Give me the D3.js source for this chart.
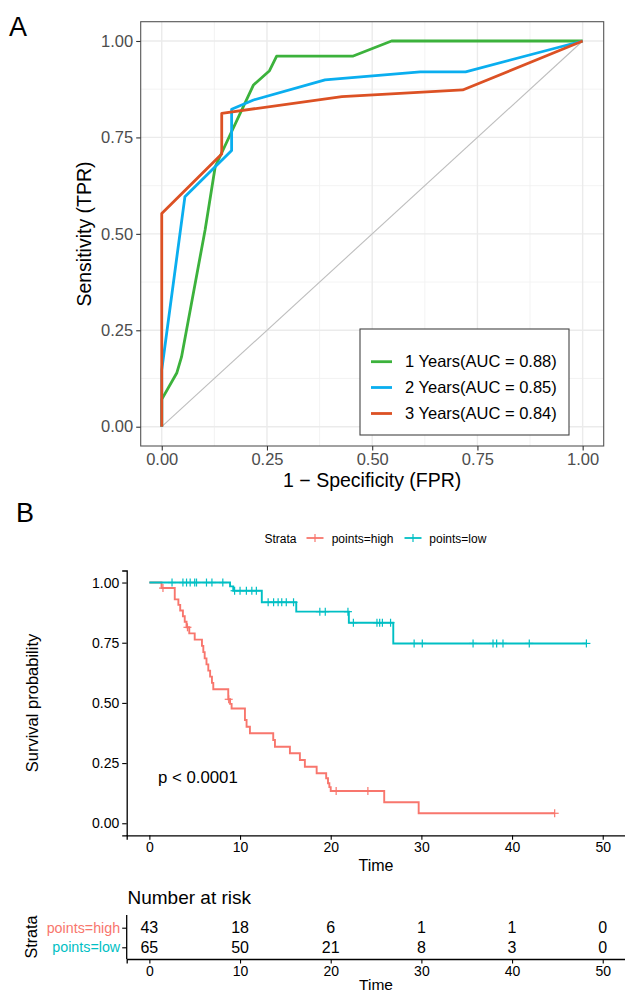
<!DOCTYPE html>
<html>
<head>
<meta charset="utf-8">
<script src="https://cdn.jsdelivr.net/npm/d3@7/dist/d3.min.js"></script>
<style>
  html, body { margin: 0; padding: 0; background: #fff; }
  svg { display: block; font-family: "Liberation Sans", Arial, sans-serif; }
</style>
</head>
<body>
<svg id="chart" width="625" height="994"></svg>
<script>
// ---------------- DATA ----------------
// Panel A: ROC curves (FPR, TPR)
const rocLabels = ["1 Years(AUC = 0.88)", "2 Years(AUC = 0.85)", "3 Years(AUC = 0.84)"];
const roc1Fpr = [0, 0, 0.036, 0.047, 0.103, 0.127, 0.218, 0.256, 0.273, 0.455, 0.546, 1];
const roc1Tpr = [0, 0.071, 0.14, 0.181, 0.51, 0.674, 0.886, 0.923, 0.961, 0.961, 1, 1];
const roc2Fpr = [0, 0, 0.055, 0.166, 0.166, 0.218, 0.388, 0.614, 0.722, 1];
const roc2Tpr = [0, 0.147, 0.596, 0.716, 0.823, 0.847, 0.899, 0.920, 0.920, 1];
const roc3Fpr = [0, 0, 0.1425, 0.1425, 0.428, 0.715, 1];
const roc3Tpr = [0, 0.553, 0.707, 0.8125, 0.856, 0.873, 1];
const rocTicks = [0, 0.25, 0.5, 0.75, 1];

// Panel B: Kaplan-Meier curves
const strata = ["points=high", "points=low"];
const highTimes = [0, 1.34, 2.8, 3.2, 3.4, 3.7, 3.9, 4.1, 4.4, 5.0, 5.8, 5.95, 6.1, 6.3, 6.5, 6.7, 6.9, 7.05, 8.7, 8.9, 9.07, 10.54, 10.72, 11.09, 13.66, 13.85, 15.5, 16.6, 17.15, 18.45, 19.5, 19.7, 19.85, 20.0, 25.9, 29.7, 44.7];
const highSurv  = [1, 0.977, 0.930, 0.907, 0.884, 0.860, 0.837, 0.814, 0.789, 0.763, 0.737, 0.711, 0.685, 0.660, 0.634, 0.609, 0.583, 0.557, 0.515, 0.496, 0.477, 0.429, 0.401, 0.374, 0.346, 0.318, 0.291, 0.263, 0.235, 0.208, 0.187, 0.166, 0.150, 0.134, 0.087, 0.0415, 0.0415];
const highCensor = [1.5, 4.2, 8.75, 20.6, 24.1, 44.7];
const lowTimes = [0, 8.9, 9.25, 12.4, 16.2, 22.0, 26.9, 48.2];
const lowSurv  = [1, 0.984, 0.966, 0.918, 0.879, 0.833, 0.747, 0.747];
const lowCensor = [2.5, 3.7, 4.1, 4.5, 5.0, 5.2, 6.3, 6.9, 8.1, 9.4, 10.0, 10.7, 11.3, 11.8, 13.1, 13.7, 14.2, 14.6, 15.1, 15.9, 18.8, 19.4, 21.9, 22.5, 25.1, 25.4, 25.7, 26.6, 29.2, 30.1, 35.7, 37.9, 38.3, 39.0, 41.9, 48.2];
const kmXTicks = [0, 10, 20, 30, 40, 50];
const kmYTicks = [0, 0.25, 0.5, 0.75, 1];
const pValueText = "p < 0.0001";
const riskHigh = [43, 18, 6, 1, 1, 0];
const riskLow  = [65, 50, 21, 8, 3, 0];

// ---------------- STYLE ----------------
const rocColors = ["#3cb23c", "#0aaeef", "#dc5124"];
const kmColors = ["#F8766D", "#00BFC4"];
const svg = d3.select("#chart");
const fmt2 = d3.format(".2f");

// ================= PANEL A =================
const ax = d3.scaleLinear().domain([-0.05, 1.05]).range([140.7, 603.7]);
const ay = d3.scaleLinear().domain([-0.05, 1.05]).range([446, 21.7]);
const gA = svg.append("g");

// grid
const minor = [0.125, 0.375, 0.625, 0.875];
gA.selectAll(".vminor").data(minor).join("line")
  .attr("x1", d => ax(d)).attr("x2", d => ax(d)).attr("y1", ay.range()[0]).attr("y2", ay.range()[1])
  .attr("stroke", "#f0f0f0").attr("stroke-width", 0.8);
gA.selectAll(".hminor").data(minor).join("line")
  .attr("y1", d => ay(d)).attr("y2", d => ay(d)).attr("x1", ax.range()[0]).attr("x2", ax.range()[1])
  .attr("stroke", "#f0f0f0").attr("stroke-width", 0.8);
gA.selectAll(".vmajor").data(rocTicks).join("line")
  .attr("x1", d => ax(d)).attr("x2", d => ax(d)).attr("y1", ay.range()[0]).attr("y2", ay.range()[1])
  .attr("stroke", "#ebebeb").attr("stroke-width", 1.4);
gA.selectAll(".hmajor").data(rocTicks).join("line")
  .attr("y1", d => ay(d)).attr("y2", d => ay(d)).attr("x1", ax.range()[0]).attr("x2", ax.range()[1])
  .attr("stroke", "#ebebeb").attr("stroke-width", 1.4);

// diagonal
gA.append("line").attr("x1", ax(0)).attr("y1", ay(0)).attr("x2", ax(1)).attr("y2", ay(1))
  .attr("stroke", "#bebebe").attr("stroke-width", 1.1);

// curves
const rocSeries = [
  roc1Fpr.map((f, i) => [f, roc1Tpr[i]]),
  roc2Fpr.map((f, i) => [f, roc2Tpr[i]]),
  roc3Fpr.map((f, i) => [f, roc3Tpr[i]])
];
const rocLine = d3.line().x(d => ax(d[0])).y(d => ay(d[1]));
rocSeries.forEach((s, i) => {
  gA.append("path").attr("d", rocLine(s)).attr("fill", "none")
    .attr("stroke", rocColors[i]).attr("stroke-width", 2.8).attr("stroke-linejoin", "round");
});

// border
gA.append("rect").attr("x", ax.range()[0]).attr("y", ay.range()[1])
  .attr("width", ax.range()[1] - ax.range()[0]).attr("height", ay.range()[0] - ay.range()[1])
  .attr("fill", "none").attr("stroke", "#555").attr("stroke-width", 1.1);

// axes
const aXAxis = gA.append("g").attr("transform", `translate(0,${ay.range()[0]})`)
  .call(d3.axisBottom(ax).tickValues(rocTicks).tickFormat(fmt2).tickSize(4.5).tickPadding(3));
const aYAxis = gA.append("g").attr("transform", `translate(${ax.range()[0]},0)`)
  .call(d3.axisLeft(ay).tickValues(rocTicks).tickFormat(fmt2).tickSize(4.5).tickPadding(3));
[aXAxis, aYAxis].forEach(g => {
  g.select(".domain").remove();
  g.selectAll(".tick line").attr("stroke", "#333").attr("stroke-width", 1.1);
  g.selectAll(".tick text").attr("fill", "#4d4d4d").style("font-size", "16.5px").attr("font-family", null);
});

gA.append("text").attr("x", 372.2).attr("y", 487).attr("text-anchor", "middle")
  .style("font-size", "19.5px").attr("fill", "#000").text("1 − Specificity (FPR)");
gA.append("text").attr("transform", "translate(91,234) rotate(-90)").attr("text-anchor", "middle")
  .style("font-size", "19.5px").attr("fill", "#000").text("Sensitivity (TPR)");

// legend
const lg = gA.append("g");
lg.append("rect").attr("x", 360).attr("y", 329).attr("width", 209).attr("height", 106)
  .attr("fill", "#fff").attr("stroke", "#444").attr("stroke-width", 1.1);
const legY = [361.7, 387.5, 413.5];
rocLabels.forEach((lab, i) => {
  lg.append("line").attr("x1", 371).attr("x2", 392).attr("y1", legY[i]).attr("y2", legY[i])
    .attr("stroke", rocColors[i]).attr("stroke-width", 2.8);
  lg.append("text").attr("x", 405).attr("y", legY[i]).attr("dy", "0.35em")
    .style("font-size", "16.5px").attr("fill", "#000").text(lab);
});

svg.append("text").attr("x", 9).attr("y", 36).style("font-size", "27px").attr("fill", "#000").text("A");

// ================= PANEL B =================
const bx = d3.scaleLinear().domain([-2.5, 52.5]).range([126.7, 625.4]);
const by = d3.scaleLinear().domain([-0.05, 1.05]).range([835.3, 570.5]);
const gB = svg.append("g");

svg.append("text").attr("x", 16).attr("y", 522).style("font-size", "27px").attr("fill", "#000").text("B");

// legend at top
const kmLeg = gB.append("g");
kmLeg.append("text").attr("x", 264.5).attr("y", 542.5).style("font-size", "12px").attr("fill", "#000").text("Strata");
const legItems = [{x: 306.5, tx: 331.7}, {x: 404.5, tx: 429.3}];
strata.forEach((s, i) => {
  const it = legItems[i];
  kmLeg.append("line").attr("x1", it.x).attr("x2", it.x + 17).attr("y1", 538).attr("y2", 538)
    .attr("stroke", kmColors[i]).attr("stroke-width", 1.8);
  kmLeg.append("line").attr("x1", it.x + 8.5).attr("x2", it.x + 8.5).attr("y1", 534).attr("y2", 542)
    .attr("stroke", kmColors[i]).attr("stroke-width", 1.2);
  kmLeg.append("text").attr("x", it.tx).attr("y", 542.5).style("font-size", "12px").attr("fill", "#000").text(s);
});

// curves
const kmLine = d3.line().x(d => bx(d[0])).y(d => by(d[1])).curve(d3.curveStepAfter);
const kmData = [
  {times: highTimes, surv: highSurv, cens: highCensor},
  {times: lowTimes, surv: lowSurv, cens: lowCensor}
];
function survAt(k, t) {
  let s = 1;
  for (let i = 0; i < k.times.length; i++) { if (k.times[i] <= t) s = k.surv[i]; }
  return s;
}
kmData.forEach((k, i) => {
  const pts = k.times.map((t, j) => [t, k.surv[j]]);
  gB.append("path").attr("d", kmLine(pts)).attr("fill", "none")
    .attr("stroke", kmColors[i]).attr("stroke-width", 1.9);
  k.cens.forEach(c => {
    const cx = bx(c), cy = by(survAt(k, c));
    gB.append("line").attr("x1", cx).attr("x2", cx).attr("y1", cy - 4).attr("y2", cy + 4)
      .attr("stroke", kmColors[i]).attr("stroke-width", 1.2);
    gB.append("line").attr("x1", cx - 4).attr("x2", cx + 4).attr("y1", cy).attr("y2", cy)
      .attr("stroke", kmColors[i]).attr("stroke-width", 1.2);
  });
});

// axes
const bXAxis = gB.append("g").attr("transform", `translate(0,${by.range()[0]})`)
  .call(d3.axisBottom(bx).tickValues(kmXTicks).tickSize(4.5).tickPadding(2.5));
const bYAxis = gB.append("g").attr("transform", `translate(${bx.range()[0]},0)`)
  .call(d3.axisLeft(by).tickValues(kmYTicks).tickFormat(fmt2).tickSize(4.5).tickPadding(3));
[bXAxis, bYAxis].forEach(g => {
  g.select(".domain").attr("stroke", "#000").attr("stroke-width", 1.3);
  g.selectAll(".tick line").attr("stroke", "#000").attr("stroke-width", 1.1);
  g.selectAll(".tick text").attr("fill", "#000").style("font-size", "14px").attr("font-family", null);
});
gB.append("text").attr("x", 376).attr("y", 871).attr("text-anchor", "middle")
  .style("font-size", "16px").attr("fill", "#000").text("Time");
gB.append("text").attr("transform", "translate(38,703) rotate(-90)").attr("text-anchor", "middle")
  .style("font-size", "16.5px").attr("fill", "#000").text("Survival probability");
gB.append("text").attr("x", 158).attr("y", 782.5)
  .style("font-size", "16.8px").attr("fill", "#000").text(pValueText);

// ================= RISK TABLE =================
const gR = svg.append("g");
const ry = d3.scalePoint().domain(strata).range([927.7, 947.3]);
gR.append("text").attr("x", 127.5).attr("y", 904).style("font-size", "19px").attr("fill", "#000").text("Number at risk");
const riskRows = [riskHigh, riskLow];
strata.forEach((s, i) => {
  gR.selectAll(null).data(kmXTicks).join("text")
    .attr("x", d => bx(d)).attr("y", ry(s)).attr("dy", "0.36em").attr("text-anchor", "middle")
    .style("font-size", "16px").attr("fill", "#000").text((d, j) => riskRows[i][j]);
});
const rXAxis = gR.append("g").attr("transform", "translate(0,959)")
  .call(d3.axisBottom(bx).tickValues(kmXTicks).tickSize(4.5).tickPadding(2.5));
rXAxis.select(".domain").attr("stroke", "#000").attr("stroke-width", 1.3);
rXAxis.selectAll(".tick line").attr("stroke", "#000").attr("stroke-width", 1.1);
rXAxis.selectAll(".tick text").attr("fill", "#000").style("font-size", "14px").attr("font-family", null);
const rYAxis = gR.append("g").attr("transform", `translate(${bx.range()[0]},0)`)
  .call(d3.axisLeft(ry).tickSize(4.5).tickPadding(2));
rYAxis.select(".domain").attr("d", `M0,915V959`).attr("stroke", "#000").attr("stroke-width", 1.3);
rYAxis.selectAll(".tick line").attr("stroke", "#000").attr("stroke-width", 1.1);
rYAxis.selectAll(".tick text").style("font-size", "14.3px").attr("font-family", null)
  .attr("fill", (d, i) => kmColors[strata.indexOf(d)]);
gR.append("text").attr("x", 376).attr("y", 990).attr("text-anchor", "middle")
  .style("font-size", "15.5px").attr("fill", "#000").text("Time");
gR.append("text").attr("transform", "translate(37,937) rotate(-90)").attr("text-anchor", "middle")
  .style("font-size", "16.2px").attr("fill", "#000").text("Strata");
</script>
</body>
</html>
